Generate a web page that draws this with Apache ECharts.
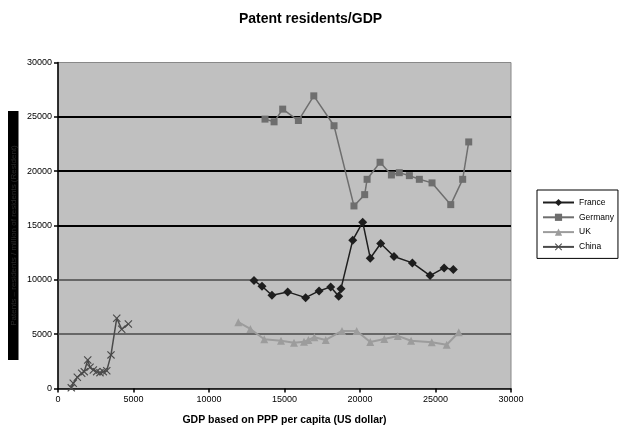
<!DOCTYPE html>
<html>
<head>
<meta charset="utf-8">
<script src="https://cdn.jsdelivr.net/npm/echarts@6/dist/echarts.min.js"></script>
<style>
html,body{margin:0;padding:0;background:#fff;}
#chart{width:621px;height:426px;}
</style>
</head>
<body>
<div id="chart"></div>
<script>
// ---- data ----
const franceX = [12980, 13510, 14170, 15210, 16400, 17290, 18060, 18590, 18740, 19520, 20180, 20680, 21370, 22250, 23470, 24640, 25570, 26180];
const franceY = [9930, 9410, 8580, 8890, 8360, 8980, 9350, 8490, 9190, 13650, 15310, 11990, 13340, 12140, 11560, 10390, 11100, 10940];

const germanyX = [13710, 14310, 14880, 15920, 16940, 18280, 19600, 20310, 20470, 21330, 22080, 22600, 23270, 23930, 24770, 26010, 26800, 27200];
const germanyY = [24790, 24540, 25710, 24660, 26930, 24180, 16800, 17840, 19250, 20820, 19650, 19860, 19590, 19250, 18920, 16920, 19250, 22690];

const ukX = [11940, 12740, 13660, 14770, 15630, 16290, 16580, 16980, 17730, 18810, 19780, 20680, 21610, 22500, 23380, 24750, 25740, 26540];
const ukY = [6100, 5480, 4530, 4400, 4220, 4310, 4470, 4720, 4470, 5300, 5300, 4280, 4560, 4840, 4400, 4260, 4030, 5180];

const chinaX = [880, 1010, 1280, 1570, 1740, 1970, 2120, 2340, 2560, 2780, 3000, 3230, 3510, 3890, 4220, 4660];
const chinaY = [60, 480, 1030, 1400, 1550, 2620, 1950, 1700, 1550, 1460, 1550, 1640, 3090, 6470, 5450, 5940];

const xTicks = [0, 5000, 10000, 15000, 20000, 25000, 30000];
const yTicks = [0, 5000, 10000, 15000, 20000, 25000, 30000];
const heavyGrid = [15000, 20000, 25000];
const lightGrid = [5000, 10000];

const titleText = 'Patent residents/GDP';
const xName = 'GDP based on PPP per capita (US dollar)';
const yName = 'Patents – residents / million of residents (Resident)';
const names = ['France', 'Germany', 'UK', 'China'];

// ---- chart ----
const pairs = (xs, ys) => xs.map((x, i) => [x, ys[i]]);
const FONT = 'Liberation Sans, Arial, sans-serif';
const crossPath = 'path://M0,1 L1,0 L5,4 L9,0 L10,1 L6,5 L10,9 L9,10 L5,6 L1,10 L0,9 L4,5 Z';
const plain = v => String(v);

const chart = echarts.init(document.getElementById('chart'), null, {renderer: 'canvas'});

const gridLines = [];
heavyGrid.forEach(v => gridLines.push({yAxis: v, lineStyle: {color: '#000', width: 2, type: 'solid'}}));
lightGrid.forEach(v => gridLines.push({yAxis: v, lineStyle: {color: '#4a4a4a', width: 1.5, type: 'solid'}}));

chart.setOption({
  animation: false,
  backgroundColor: '#fff',
  textStyle: {fontFamily: FONT},
  title: {
    text: titleText,
    left: 'center',
    top: 7,
    textStyle: {fontFamily: FONT, fontSize: 14, fontWeight: 'bold', color: '#000'}
  },
  graphic: [
    {type: 'rect', shape: {x: 8, y: 111, width: 10.5, height: 249}, style: {fill: '#000'}, silent: true},
    {type: 'text', x: 13.5, y: 235.5, rotation: Math.PI / 2, silent: true,
     style: {text: yName, fill: '#2a2a2a', font: '8px "Liberation Sans", Arial, sans-serif', align: 'center', verticalAlign: 'middle'}}
  ],
  grid: {
    left: 58, right: 110, top: 62.5, bottom: 37.5,
    containLabel: false,
    outerBoundsMode: 'none',
    show: true, backgroundColor: '#c0c0c0', borderColor: '#888', borderWidth: 1
  },
  legend: {
    orient: 'vertical',
    left: 537, top: 190,
    padding: [8, 4, 7, 5],
    itemGap: 5.8,
    itemWidth: 31, itemHeight: 9,
    borderColor: '#000', borderWidth: 1, backgroundColor: '#fff',
    textStyle: {fontFamily: FONT, fontSize: 8.5, color: '#000'},
    data: names
  },
  xAxis: {
    type: 'value',
    min: xTicks[0], max: xTicks[xTicks.length - 1], interval: xTicks[1] - xTicks[0],
    name: xName,
    nameLocation: 'middle',
    nameGap: 26,
    nameTextStyle: {fontFamily: FONT, fontSize: 10.5, fontWeight: 'bold', color: '#000'},
    axisLine: {show: true, onZero: false, lineStyle: {color: '#000', width: 1.5}},
    axisTick: {show: true, length: 4, inside: false, lineStyle: {color: '#000', width: 1.5}},
    axisLabel: {fontFamily: FONT, fontSize: 9, color: '#000', margin: 7, formatter: plain},
    splitLine: {show: false}
  },
  yAxis: {
    type: 'value',
    min: yTicks[0], max: yTicks[yTicks.length - 1], interval: yTicks[1] - yTicks[0],
    axisLine: {show: true, onZero: false, lineStyle: {color: '#000', width: 1.5}},
    axisTick: {show: true, length: 4, inside: false, lineStyle: {color: '#000', width: 1.5}},
    axisLabel: {fontFamily: FONT, fontSize: 9, color: '#000', margin: 6, formatter: plain},
    splitLine: {show: false}
  },
  series: [
    {
      name: 'France', type: 'line', data: pairs(franceX, franceY),
      symbol: 'diamond', symbolSize: 9, z: 5,
      itemStyle: {color: '#1e1e1e'},
      lineStyle: {color: '#1e1e1e', width: 1.5},
      markLine: {silent: true, symbol: 'none', label: {show: false}, data: gridLines, z: 1}
    },
    {
      name: 'Germany', type: 'line', data: pairs(germanyX, germanyY),
      symbol: 'rect', symbolSize: 7, z: 4,
      itemStyle: {color: '#6e6e6e'},
      lineStyle: {color: '#6e6e6e', width: 1.5}
    },
    {
      name: 'UK', type: 'line', data: pairs(ukX, ukY),
      symbol: 'triangle', symbolSize: 8, z: 3,
      itemStyle: {color: '#9c9c9c'},
      lineStyle: {color: '#9c9c9c', width: 2}
    },
    {
      name: 'China', type: 'line', data: pairs(chinaX, chinaY),
      symbol: crossPath, symbolSize: 8, z: 3,
      itemStyle: {color: '#4a4a4a'},
      lineStyle: {color: '#4a4a4a', width: 1.5}
    }
  ]
});
</script>
</body>
</html>
